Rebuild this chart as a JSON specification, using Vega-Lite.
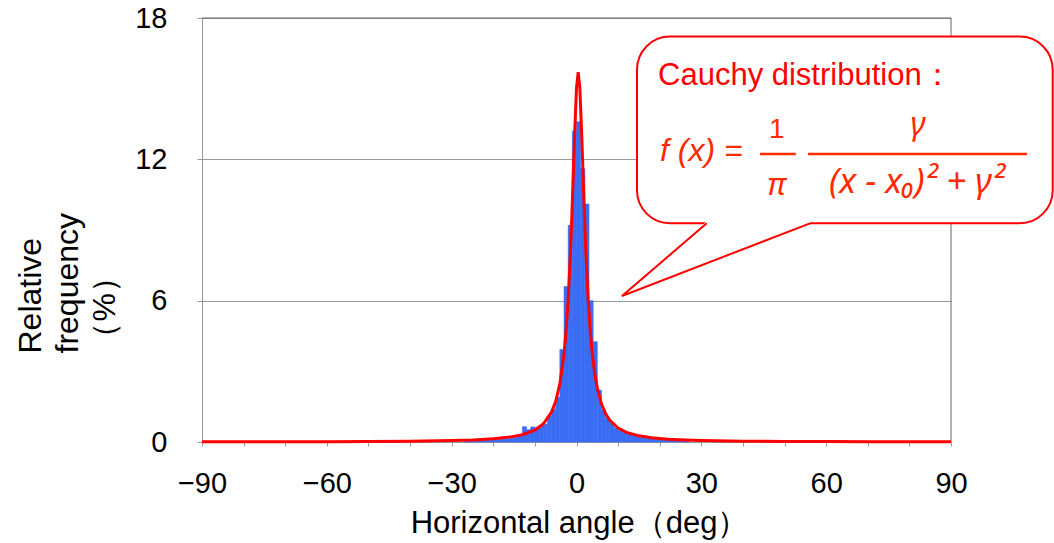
{
  "$schema": "https://vega.github.io/schema/vega-lite/v6.json",
  "width": 749,
  "height": 424,
  "autosize": {"type": "none"},
  "padding": {"left": 202, "top": 18, "right": 103, "bottom": 101},
  "background": "white",
  "config": {
    "view": {"stroke": null},
    "font": "Liberation Sans",
    "axis": {
      "labelFont": "Liberation Sans",
      "titleFont": "Liberation Sans",
      "labelColor": "#000000",
      "titleColor": "#000000",
      "titleFontWeight": "normal",
      "domainColor": "#999999",
      "tickColor": "#999999",
      "gridColor": "#999999",
      "domainWidth": 1,
      "tickWidth": 1,
      "gridWidth": 1
    }
  },
  "layer": [
    {
      "data": {"values": [{}]},
      "mark": {"type": "rule", "color": "#666666", "strokeWidth": 1},
      "encoding": {
        "x": {"datum": 90, "type": "quantitative"},
        "y": {"datum": 0, "type": "quantitative"},
        "y2": {"datum": 18}
      }
    },
    {
      "data": {"values": [{}]},
      "mark": {"type": "rule", "color": "#666666", "strokeWidth": 1},
      "encoding": {
        "x": {"datum": -90, "type": "quantitative"},
        "x2": {"datum": 90},
        "y": {"datum": 18, "type": "quantitative"}
      }
    },
    {
      "data": {
        "values": [
          {"lo": -27, "hi": -26, "pct": 0.03}, {"lo": -26, "hi": -25, "pct": 0.04},
          {"lo": -25, "hi": -24, "pct": 0.05}, {"lo": -24, "hi": -23, "pct": 0.06},
          {"lo": -23, "hi": -22, "pct": 0.07}, {"lo": -22, "hi": -21, "pct": 0.08},
          {"lo": -21, "hi": -20, "pct": 0.09}, {"lo": -20, "hi": -19, "pct": 0.1},
          {"lo": -19, "hi": -18, "pct": 0.11}, {"lo": -18, "hi": -17, "pct": 0.12},
          {"lo": -17, "hi": -16, "pct": 0.13}, {"lo": -16, "hi": -15, "pct": 0.16},
          {"lo": -15, "hi": -14, "pct": 0.2}, {"lo": -14, "hi": -13, "pct": 0.28},
          {"lo": -13, "hi": -12, "pct": 0.65}, {"lo": -12, "hi": -11, "pct": 0.52},
          {"lo": -11, "hi": -10, "pct": 0.64}, {"lo": -10, "hi": -9, "pct": 0.6},
          {"lo": -9, "hi": -8, "pct": 0.68}, {"lo": -8, "hi": -7, "pct": 0.75},
          {"lo": -7, "hi": -6, "pct": 1.1}, {"lo": -6, "hi": -5, "pct": 1.4},
          {"lo": -5, "hi": -4, "pct": 1.9}, {"lo": -4, "hi": -3, "pct": 3.93},
          {"lo": -3, "hi": -2, "pct": 6.6}, {"lo": -2, "hi": -1, "pct": 9.2},
          {"lo": -1, "hi": 0, "pct": 13.2}, {"lo": 0, "hi": 1, "pct": 13.6},
          {"lo": 1, "hi": 2, "pct": 11.6}, {"lo": 2, "hi": 3, "pct": 10.1},
          {"lo": 3, "hi": 4, "pct": 6.0}, {"lo": 4, "hi": 5, "pct": 4.26},
          {"lo": 5, "hi": 6, "pct": 2.2}, {"lo": 6, "hi": 7, "pct": 1.36},
          {"lo": 7, "hi": 8, "pct": 1.0}, {"lo": 8, "hi": 9, "pct": 0.8},
          {"lo": 9, "hi": 10, "pct": 0.6}, {"lo": 10, "hi": 11, "pct": 0.5},
          {"lo": 11, "hi": 12, "pct": 0.44}, {"lo": 12, "hi": 13, "pct": 0.38},
          {"lo": 13, "hi": 14, "pct": 0.36}, {"lo": 14, "hi": 15, "pct": 0.28},
          {"lo": 15, "hi": 16, "pct": 0.26}, {"lo": 16, "hi": 17, "pct": 0.19},
          {"lo": 17, "hi": 18, "pct": 0.19}, {"lo": 18, "hi": 19, "pct": 0.19},
          {"lo": 19, "hi": 20, "pct": 0.19}, {"lo": 20, "hi": 21, "pct": 0.15},
          {"lo": 21, "hi": 22, "pct": 0.1}, {"lo": 22, "hi": 23, "pct": 0.1},
          {"lo": 23, "hi": 24, "pct": 0.1}, {"lo": 24, "hi": 25, "pct": 0.08},
          {"lo": 25, "hi": 26, "pct": 0.08}, {"lo": 26, "hi": 27, "pct": 0.06}
        ]
      },
      "mark": {"type": "rect", "color": "#3a6cf5", "stroke": "#3a6cf5", "strokeWidth": 0.6},
      "encoding": {
        "x": {
          "field": "lo", "type": "quantitative",
          "scale": {"domain": [-90, 90], "nice": false, "zero": false},
          "axis": {
            "title": "Horizontal angle（deg）",
            "values": [-90, -80, -70, -60, -50, -40, -30, -20, -10, 0, 10, 20, 30, 40, 50, 60, 70, 80, 90],
            "labelExpr": "datum.value % 30 === 0 ? datum.label : ''",
            "labelFlush": false,
            "labelOverlap": false,
            "labelFontSize": 29,
            "labelPadding": 23,
            "tickSize": 4,
            "grid": false,
            "titleFontSize": 31,
            "titleBaseline": "alphabetic",
            "titleAnchor": "middle",
            "titleX": 377,
            "titleY": 90
          }
        },
        "x2": {"field": "hi"},
        "y": {
          "field": "pct", "type": "quantitative",
          "scale": {"domain": [0, 18], "nice": false},
          "axis": {
            "title": ["Relative", "frequency", "（%）"],
            "values": [0, 6, 12, 18],
            "grid": true,
            "labelFontSize": 29,
            "labelPadding": 30,
            "tickSize": 5,
            "titleFontSize": 32,
            "titleLineHeight": 37,
            "titleAngle": 270,
            "titleAlign": "left",
            "titleBaseline": "alphabetic",
            "titleX": -162,
            "titleY": 335
          }
        },
        "y2": {"datum": 0}
      }
    },
    {
      "data": {
        "values": [
          {"x": -90, "y": 0.0071}, {"x": -80, "y": 0.0088}, {"x": -70, "y": 0.0114},
          {"x": -60, "y": 0.0155}, {"x": -50, "y": 0.0223}, {"x": -40, "y": 0.0347},
          {"x": -30, "y": 0.0612}, {"x": -25, "y": 0.0874}, {"x": -20, "y": 0.135},
          {"x": -16, "y": 0.208}, {"x": -13, "y": 0.31}, {"x": -10, "y": 0.507},
          {"x": -8, "y": 0.764}, {"x": -6, "y": 1.272}, {"x": -5, "y": 1.73},
          {"x": -4, "y": 2.468}, {"x": -3, "y": 3.736}, {"x": -2.5, "y": 4.716},
          {"x": -2, "y": 6.05}, {"x": -1.5, "y": 7.85}, {"x": -1, "y": 10.18},
          {"x": -0.5, "y": 12.82}, {"x": 0, "y": 15.03}, {"x": 0.4, "y": 15.7},
          {"x": 0.8, "y": 15.03}, {"x": 1.3, "y": 12.82}, {"x": 1.8, "y": 10.18},
          {"x": 2.3, "y": 7.85}, {"x": 2.8, "y": 6.05}, {"x": 3.3, "y": 4.716},
          {"x": 3.8, "y": 3.736}, {"x": 4.4, "y": 2.89}, {"x": 5, "y": 2.288},
          {"x": 6, "y": 1.621}, {"x": 7, "y": 1.201}, {"x": 8, "y": 0.924},
          {"x": 10, "y": 0.592}, {"x": 12, "y": 0.41}, {"x": 15, "y": 0.262},
          {"x": 18, "y": 0.181}, {"x": 22, "y": 0.12}, {"x": 26, "y": 0.086},
          {"x": 30, "y": 0.0644}, {"x": 40, "y": 0.036}, {"x": 50, "y": 0.023},
          {"x": 60, "y": 0.016}, {"x": 70, "y": 0.0117}, {"x": 80, "y": 0.0089},
          {"x": 90, "y": 0.0071}
        ]
      },
      "mark": {"type": "line", "color": "#ff0000", "strokeWidth": 3, "strokeJoin": "miter"},
      "encoding": {
        "x": {"field": "x", "type": "quantitative"},
        "y": {"field": "y", "type": "quantitative"}
      }
    },
    {
      "data": {"values": [{}]},
      "mark": {"type": "rect", "fill": "#ffffff", "stroke": "#ff0000", "strokeWidth": 2, "cornerRadius": 33},
      "encoding": {
        "x": {"datum": 14.54, "type": "quantitative"},
        "x2": {"datum": 114.44},
        "y": {"datum": 17.21, "type": "quantitative"},
        "y2": {"datum": 9.284}
      }
    },
    {
      "data": {
        "values": [
          {"px": 10.93, "lower": 6.198, "upper": 6.198},
          {"px": 31.29, "lower": 7.589, "upper": 9.37},
          {"px": 56.11, "lower": 9.284, "upper": 9.37}
        ]
      },
      "mark": {"type": "area", "color": "#ffffff", "opacity": 1},
      "encoding": {
        "x": {"field": "px", "type": "quantitative"},
        "y": {"field": "lower", "type": "quantitative"},
        "y2": {"field": "upper"}
      }
    },
    {
      "data": {
        "values": [
          {"px": 31.29, "py": 9.284, "o": 1},
          {"px": 10.93, "py": 6.198, "o": 2},
          {"px": 56.11, "py": 9.284, "o": 3}
        ]
      },
      "mark": {"type": "line", "color": "#ff0000", "strokeWidth": 2, "strokeJoin": "miter"},
      "encoding": {
        "x": {"field": "px", "type": "quantitative"},
        "y": {"field": "py", "type": "quantitative"},
        "order": {"field": "o"}
      }
    },
    {
      "data": {"values": [{}]},
      "mark": {"type": "text", "text": "Cauchy distribution：", "color": "#ff0000", "fontSize": 31, "align": "left", "baseline": "alphabetic", "font": "Liberation Sans"},
      "encoding": {
        "x": {"datum": 19.59, "type": "quantitative"},
        "y": {"datum": 15.16, "type": "quantitative"}
      }
    },
    {
      "data": {"values": [{}]},
      "mark": {"type": "text", "text": "f (x) =", "color": "#ff2a00", "fontSize": 32, "fontStyle": "italic", "align": "left", "baseline": "alphabetic", "font": "Liberation Sans"},
      "encoding": {
        "x": {"datum": 20.07, "type": "quantitative"},
        "y": {"datum": 11.93, "type": "quantitative"}
      }
    },
    {
      "data": {"values": [{}]},
      "mark": {"type": "text", "text": "1", "color": "#ff2a00", "fontSize": 28, "align": "center", "baseline": "alphabetic", "font": "Liberation Sans"},
      "encoding": {
        "x": {"datum": 48.11, "type": "quantitative"},
        "y": {"datum": 12.91, "type": "quantitative"}
      }
    },
    {
      "data": {"values": [{}]},
      "mark": {"type": "rule", "color": "#ff2a00", "strokeWidth": 2.5},
      "encoding": {
        "x": {"datum": 44.11, "type": "quantitative"},
        "x2": {"datum": 52.69},
        "y": {"datum": 12.23, "type": "quantitative"}
      }
    },
    {
      "data": {"values": [{}]},
      "mark": {"type": "text", "text": "π", "color": "#ff2a00", "fontSize": 31, "fontStyle": "italic", "align": "center", "baseline": "alphabetic", "font": "Noto Sans"},
      "encoding": {
        "x": {"datum": 48.11, "type": "quantitative"},
        "y": {"datum": 10.49, "type": "quantitative"}
      }
    },
    {
      "data": {"values": [{}]},
      "mark": {"type": "text", "text": "γ", "color": "#ff2a00", "fontSize": 32, "fontStyle": "italic", "align": "center", "baseline": "alphabetic", "font": "Noto Sans"},
      "encoding": {
        "x": {"datum": 82.07, "type": "quantitative"},
        "y": {"datum": 13.03, "type": "quantitative"}
      }
    },
    {
      "data": {"values": [{}]},
      "mark": {"type": "rule", "color": "#ff2a00", "strokeWidth": 2.5},
      "encoding": {
        "x": {"datum": 55.63, "type": "quantitative"},
        "x2": {"datum": 108.26},
        "y": {"datum": 12.23, "type": "quantitative"}
      }
    },
    {
      "data": {"values": [{}]},
      "mark": {"type": "text", "text": "(x − x₀)² + γ²", "color": "#ff2a00", "fontSize": 35, "fontStyle": "italic", "align": "center", "baseline": "alphabetic", "font": "Noto Sans"},
      "encoding": {
        "x": {"datum": 81.76, "type": "quantitative"},
        "y": {"datum": 10.55, "type": "quantitative"}
      }
    }
  ]
}
